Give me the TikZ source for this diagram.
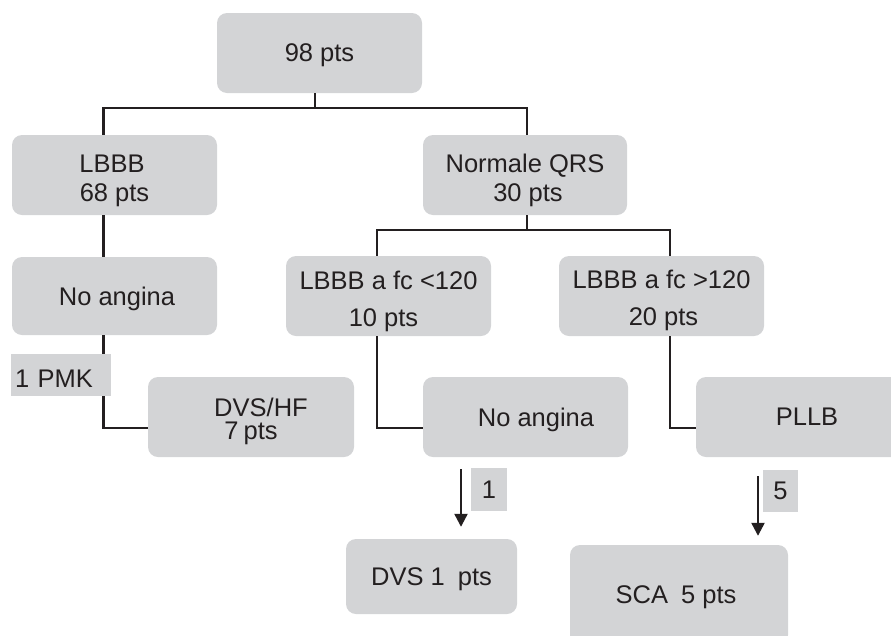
\documentclass[tikz,border=0pt]{standalone}
\usepackage{fontspec}
\setmainfont{Liberation Sans}
\usetikzlibrary{arrows.meta,calc}
\definecolor{boxgray}{RGB}{211,212,214}
\definecolor{ink}{RGB}{35,31,32}
\newcommand\dnrule[1]{\rule{0pt}{#1}}
\tikzset{
  box/.style={fill=boxgray, rounded corners=10pt, inner sep=0pt, align=center,
    text=ink, text depth=0pt, font=\fontsize{25.5}{30}\selectfont},
  tag/.style={fill=boxgray, inner sep=0pt, text=ink, text depth=0pt, font=\fontsize{25.5}{30}\selectfont},
  link/.style={draw=ink, line width=2.3pt},
  arr/.style={draw=ink, line width=2.3pt, -{Triangle[width=13pt,length=13pt]}}
}
\begin{document}
\begin{tikzpicture}[x=1pt,y=-1pt]
\useasboundingbox (0,0) rectangle (891,635);
% boxes
\node[box, minimum width=205pt, minimum height=80pt] (top) at (319.5,53) {98 pts};
\node[box, minimum width=205pt, minimum height=80pt] (lbbb) at (114.5,175) {\dnrule{24.3pt}\hspace*{-5pt}LBBB\\[-1pt]68 pts};
\node[box, minimum width=204pt, minimum height=80pt] (nqrs) at (525,175) {\dnrule{24.3pt}Normale QRS\\[-1pt]\hspace*{6pt}30 pts};
\node[box, minimum width=205pt, minimum height=78pt] (na1) at (114.5,296) {\hspace*{5pt}No angina};
\node[box, minimum width=205pt, minimum height=80pt, font=\fontsize{25.5}{37}\selectfont] (f1) at (388.5,296) {\dnrule{23.3pt}LBBB a fc <120\\\hspace*{-10pt}10 pts};
\node[box, minimum width=205pt, minimum height=80pt, font=\fontsize{25.5}{37}\selectfont] (f2) at (661.5,296) {\dnrule{21.3pt}LBBB a fc >120\\\hspace*{4pt}20 pts};
\node[box, minimum width=206pt, minimum height=80pt, font=\fontsize{25.5}{23}\selectfont] (dvshf) at (251,417) {\dnrule{21.3pt}\hspace*{20pt}DVS/HF\\7\hspace{5pt}pts};
\node[box, minimum width=205pt, minimum height=80pt] (na2) at (525.5,417) {\hspace*{21pt}No angina};
\node[box, minimum width=219pt, minimum height=80pt] (pllb) at (805.5,417) {\hspace*{3pt}PLLB};
\node[box, minimum width=171pt, minimum height=75pt] (dvs1) at (431.5,576.5) {DVS 1\hspace{6pt} pts};
\node[box, minimum width=218pt, minimum height=100pt] (sca) at (679,595) {SCA\hspace{6pt} 5 pts\hspace*{6pt}};
% connectors
\coordinate (j1) at (315,108);
\coordinate (j2) at (527,230);
\draw[link] (top.south -| j1) -- (j1);
\draw[link] ([xshift=-11pt]lbbb.north) |- (j1) -| ([xshift=2pt]nqrs.north);
\draw[link] ([xshift=2pt]nqrs.south) -- (j2);
\draw[link] ([xshift=-11.5pt]f1.north) |- (j2) -| ([xshift=8.5pt]f2.north);
\draw[link] ([xshift=-11pt]lbbb.south) -- ([xshift=-11pt]na1.north);
\draw[link] ([xshift=-11pt]na1.south) |- ([yshift=-11pt]dvshf.west);
\draw[link] ([xshift=-11.5pt]f1.south) |- ([yshift=-11pt]na2.west);
\draw[link] ([xshift=8.5pt]f2.south) |- ([yshift=-11pt]pllb.west);
\draw[arr, shorten <=12pt, shorten >=12pt] ([xshift=-64.5pt]na2.south) -- ([xshift=-64.5pt]na2.south |- dvs1.north);
\draw[arr, shorten <=19pt, shorten >=9pt] ([xshift=-47.5pt]pllb.south) -- ([xshift=-47.5pt]pllb.south |- sca.north);
% tags
\node[tag, minimum height=42pt, text width=92pt, inner xsep=4pt, align=left] (pmk) at (61,375) {\dnrule{24.3pt}1 PMK};
\node[tag, minimum width=36pt, minimum height=43pt] (lab1) at (489,489.5) {1};
\node[tag, minimum width=35pt, minimum height=42pt] (lab5) at (780.5,491) {5};
\end{tikzpicture}
\end{document}
